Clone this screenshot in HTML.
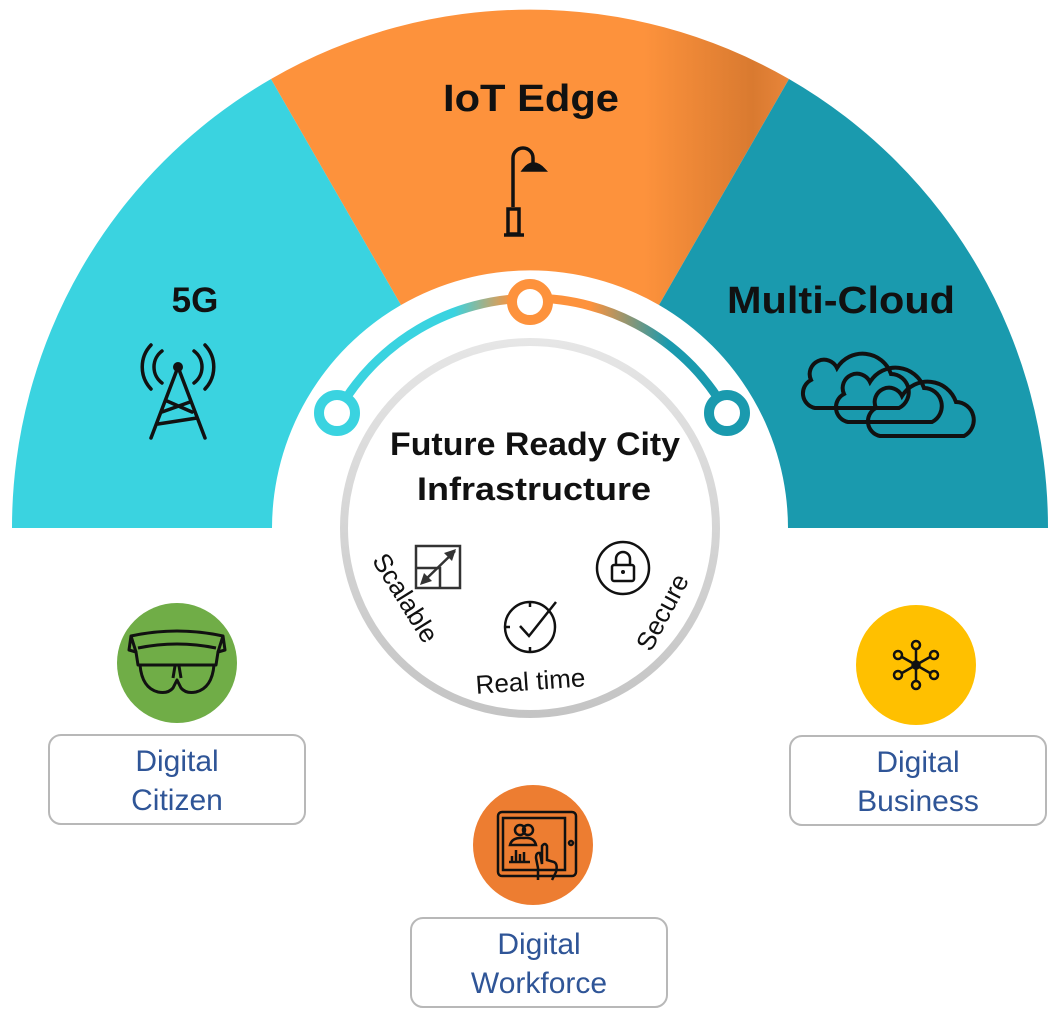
<!DOCTYPE html>
<html><head><meta charset="utf-8"><style>
html,body{margin:0;padding:0;background:#fff}
svg{display:block}
.b{font-family:"Liberation Sans",sans-serif;font-weight:bold;fill:#111}
.r{font-family:"Liberation Sans",sans-serif;fill:#111}
.l{font-family:"Liberation Sans",sans-serif;fill:#2f5597;font-size:30px}
</style></head><body>
<svg width="1060" height="1021" viewBox="0 0 1060 1021" xmlns="http://www.w3.org/2000/svg">
<defs>
<linearGradient id="go" x1="271" y1="0" x2="789" y2="0" gradientUnits="userSpaceOnUse"><stop offset="0" stop-color="#fd923c"/><stop offset="0.72" stop-color="#fd923c"/><stop offset="0.93" stop-color="#d97a30"/><stop offset="1" stop-color="#e8853a"/></linearGradient>
<linearGradient id="gcy" x1="271" y1="79" x2="150" y2="300" gradientUnits="userSpaceOnUse"><stop offset="0" stop-color="#2fa9b5"/><stop offset="0.5" stop-color="#3ad3e0"/></linearGradient>
<linearGradient id="ga" x1="337" y1="0" x2="727" y2="0" gradientUnits="userSpaceOnUse"><stop offset="0" stop-color="#3ad3e0"/><stop offset="0.3" stop-color="#3ad3e0"/><stop offset="0.45" stop-color="#fd923c"/><stop offset="0.65" stop-color="#fd923c"/><stop offset="0.85" stop-color="#1a9aae"/></linearGradient>
<linearGradient id="gr" x1="0" y1="338" x2="0" y2="718" gradientUnits="userSpaceOnUse"><stop offset="0" stop-color="#e6e6e6"/><stop offset="1" stop-color="#c4c4c4"/></linearGradient>
<path id="cl" d="M12,56 A15,15 0 0 1 8,28 A14,14 0 0 1 34,16 A30,30 0 0 1 88,22 A18,18 0 0 1 96,56 Z"/>
</defs>
<path d="M12,528 A518,518 0 0 1 271,79 L401,305 A258,258 0 0 0 272,528 Z" fill="#3ad3e0"/>
<path d="M271,79 A518,518 0 0 1 789,79 L659,305 A258,258 0 0 0 401,305 Z" fill="url(#go)"/>
<path d="M789,79 A518,518 0 0 1 1048,528 L788,528 A258,258 0 0 0 659,305 Z" fill="#1a9aae"/>
<path d="M337,413 A223,223 0 0 1 727,413" fill="none" stroke="url(#ga)" stroke-width="9"/>
<circle cx="530" cy="302" r="18" fill="#fff" stroke="#fd923c" stroke-width="10"/>
<circle cx="337" cy="413" r="18" fill="#fff" stroke="#3ad3e0" stroke-width="10"/>
<circle cx="727" cy="413" r="18" fill="#fff" stroke="#1a9aae" stroke-width="10"/>
<circle cx="530" cy="528" r="186" fill="#fff" stroke="url(#gr)" stroke-width="8"/>
<text class="b" x="535" y="455" font-size="32" text-anchor="middle" textLength="290" lengthAdjust="spacingAndGlyphs">Future Ready City</text>
<text class="b" x="534" y="500" font-size="32" text-anchor="middle" textLength="234" lengthAdjust="spacingAndGlyphs">Infrastructure</text>
<text class="r" font-size="26" transform="rotate(58 390 590)" x="355" y="590">Scalable</text>
<text class="r" x="531" y="690" font-size="26" text-anchor="middle" transform="rotate(-4 532 690)">Real time</text>
<text class="r" font-size="26" transform="rotate(-62 660 610)" x="618" y="622">Secure</text>
<rect x="416" y="546" width="44" height="42" fill="none" stroke="#333" stroke-width="2.5"/>
<path d="M416,568 H440 V588" fill="none" stroke="#333" stroke-width="2.5"/>
<path d="M423,582 L455,551" stroke="#333" stroke-width="2.5"/>
<path d="M456,549 L444,553 L452,561 Z M420,585 L424,573 L432,581 Z" fill="#333"/>
<circle cx="530" cy="627" r="25" fill="none" stroke="#111" stroke-width="2.5"/>
<path d="M520,626 L529,636 L556,602" fill="none" stroke="#111" stroke-width="2.5"/>
<path d="M530,602 V607 M530,647 V652 M505,627 H510" stroke="#111" stroke-width="2.5"/>
<circle cx="623" cy="568" r="26" fill="none" stroke="#111" stroke-width="2.5"/>
<rect x="612" y="565" width="22" height="16" rx="2" fill="none" stroke="#111" stroke-width="2.5"/>
<path d="M616,565 V559 A7,7 0 0 1 630,559 V565" fill="none" stroke="#111" stroke-width="2.5"/>
<circle cx="623" cy="572" r="2" fill="#111"/>
<text class="b" x="195" y="312" font-size="35" text-anchor="middle">5G</text>
<text class="b" x="531" y="111" font-size="38" text-anchor="middle" textLength="176" lengthAdjust="spacingAndGlyphs">IoT Edge</text>
<text class="b" x="841" y="313" font-size="38" text-anchor="middle" textLength="228" lengthAdjust="spacingAndGlyphs">Multi-Cloud</text>
<g fill="none" stroke="#111" stroke-width="3.5" stroke-linecap="round">
<path d="M178,367 L151,438 M178,367 L205,438 M162,412 L190,402 M158,424 L197,418 M167,401 L192,412"/>
<path d="M162,351 A20,20 0 0 0 162,383 M194,351 A20,20 0 0 1 194,383 M151,345 A32,32 0 0 0 151,389 M205,345 A32,32 0 0 1 205,389"/>
</g>
<circle cx="178" cy="367" r="5" fill="#111"/>
<g fill="none" stroke="#111" stroke-width="3.5">
<path d="M513,207 V158 A10,10 0 0 1 533,158 V163"/>
<path d="M524,170 Q533,158 544,170 Z" fill="#111"/>
<rect x="508" y="209" width="11" height="25"/>
<path d="M504,235 H524"/>
</g>
<g fill="none" stroke="#111" stroke-width="4">
<use href="#cl" x="803" y="352"/>
<use href="#cl" x="836" y="366"/>
<use href="#cl" x="868" y="380"/>
</g>
<circle cx="177" cy="663" r="60" fill="#70ad47"/>
<g fill="none" stroke="#111" stroke-width="3" stroke-linejoin="round">
<path d="M131,636 Q177,626 223,636 L225,650 L218,652 L216,665 L138,665 L136,652 L129,650 Z"/>
<path d="M131,636 L136,652 M223,636 L218,652 M138,648 Q177,640 216,648"/>
<path d="M140,665 Q142,688 158,692 Q168,694 173,688 L177,680 L181,688 Q186,694 196,692 Q212,688 214,665"/>
<path d="M173,678 L175,666 M181,678 L179,666"/>
</g>
<circle cx="533" cy="845" r="60" fill="#ed7d31"/>
<g fill="none" stroke="#111" stroke-width="2.5">
<rect x="498" y="812" width="78" height="64" rx="4"/>
<rect x="503" y="818" width="62" height="52"/>
<circle cx="571" cy="843" r="2"/>
<circle cx="520" cy="830" r="5"/><circle cx="528" cy="830" r="5"/>
<path d="M510,845 Q512,837 524,838 Q534,837 536,845 Z"/>
<path d="M509,862 H530 M512,862 V856 M516,862 V850 M520,862 V854 M524,862 V852"/>
<path d="M538,880 V868 L536,858 Q536,852 540,853 L542,864 V846 Q545,842 547,846 V860 L554,862 Q558,864 556,872 L552,880"/>
</g>
<circle cx="916" cy="665" r="60" fill="#ffc000"/>
<g fill="none" stroke="#111" stroke-width="2.5">
<path d="M916,649 V681 M902,657 L930,673 M930,657 L902,673"/>
<circle cx="916" cy="665" r="3.5" fill="#111"/>
<circle cx="916" cy="645" r="4"/><circle cx="916" cy="685" r="4"/>
<circle cx="898" cy="655" r="4"/><circle cx="934" cy="655" r="4"/>
<circle cx="898" cy="675" r="4"/><circle cx="934" cy="675" r="4"/>
</g>
<rect x="49" y="735" width="256" height="89" rx="12" fill="#fff" stroke="#b8b8b8" stroke-width="2"/>
<text class="l" x="177" y="771" text-anchor="middle">Digital</text>
<text class="l" x="177" y="810" text-anchor="middle">Citizen</text>
<rect x="790" y="736" width="256" height="89" rx="12" fill="#fff" stroke="#b8b8b8" stroke-width="2"/>
<text class="l" x="918" y="772" text-anchor="middle">Digital</text>
<text class="l" x="918" y="811" text-anchor="middle">Business</text>
<rect x="411" y="918" width="256" height="89" rx="12" fill="#fff" stroke="#b8b8b8" stroke-width="2"/>
<text class="l" x="539" y="954" text-anchor="middle">Digital</text>
<text class="l" x="539" y="993" text-anchor="middle">Workforce</text>
</svg>
</body></html>
